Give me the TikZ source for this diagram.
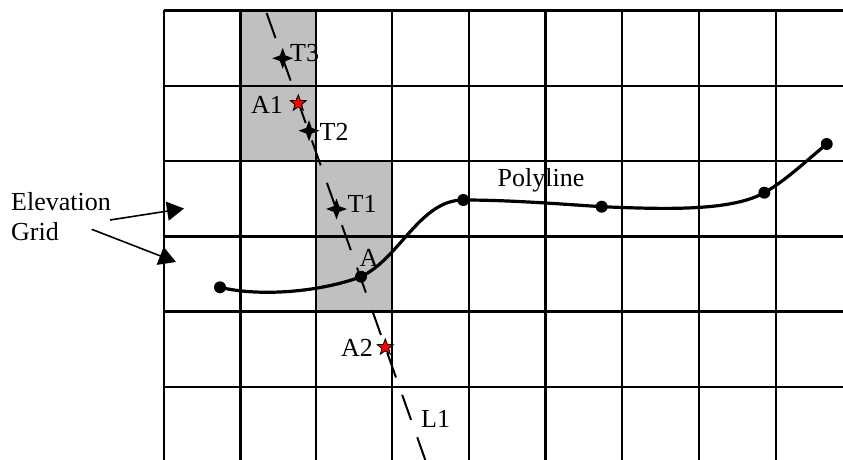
\documentclass[tikz,border=0pt]{standalone}
\usepackage{fontspec}
\setmainfont{Liberation Serif}
\usetikzlibrary{arrows.meta,shapes.geometric}
\definecolor{cellgray}{HTML}{C0C0C0}
\begin{document}
\begin{tikzpicture}[x=1pt,y=-1pt,
  gridline/.style={line width=2.4pt},
  lbl/.style={font=\fontsize{26}{30}\selectfont, inner sep=0pt, anchor=base west},
  polyline/.style={line width=3.2pt},
  vertex/.style={circle, fill=black, inner sep=0pt, minimum size=12pt},
  redstar/.style={star, star points=5, star point ratio=2.4, fill=red, draw=black, line width=0.8pt, inner sep=0pt, minimum size=17pt},
  sectline/.style={line width=2pt, dash pattern=on 26.5pt off 18.5pt, dash phase=31pt},
  labelarrow/.style={line width=1.6pt, -{Triangle[length=17pt,width=19pt]}}]
\useasboundingbox (0,0) rectangle (843,460);
% shaded cells
\fill[cellgray] (240.5,10.5) rectangle (316,161);
\fill[cellgray] (316,161) rectangle (392,311.5);
% grid
\foreach \x in {164,240.5,316,392,469,545.5,622,699,776}
  \draw[gridline] (\x,10.5) -- (\x,460);
\foreach \y in {10.5,86,161,236.5,311.5,387}
  \draw[gridline] (164,\y) -- (843,\y);
% line L1
\coordinate (L1top) at (262,0);
\coordinate (L1bot) at (425.3,460);
\draw[sectline] (L1top) -- (L1bot);
% polyline
\coordinate (P0) at (220,287.3);
\coordinate (A) at (361,276.7);
\coordinate (P2) at (463.3,200);
\coordinate (P3) at (601.7,206.7);
\coordinate (P4) at (764.3,192.7);
\coordinate (P5) at (826.7,144);
\draw[polyline] (P0) .. controls (260,297) and (320,292) .. (A)
  .. controls (400,258) and (420,200) .. (P2)
  .. controls (510,200) and (560,204) .. (P3)
  .. controls (660,209) and (730,212) .. (P4)
  .. controls (785,181) and (805,162) .. (P5);
\foreach \p in {P0,A,P2,P3,P4,P5}
  \node[vertex] (v\p) at (\p) {};
% T markers
\coordinate (T1) at (336.5,209);
\coordinate (T2) at (309,130.7);
\coordinate (T3) at (282.7,58.3);
\foreach \t in {T1,T2,T3}
  \fill[shift={(\t)}] (0,-10.5) -- (2.8,-2.8) -- (10.5,0) -- (2.8,2.8) -- (0,10.5) -- (-2.8,2.8) -- (-10.5,0) -- (-2.8,-2.8) -- cycle;
% red stars
\node[redstar] (A1) at (298.3,103.3) {};
\node[redstar] (A2) at (385.3,347.3) {};
% labels
\node[lbl] (lT3) at (290,61.7) {T3};
\node[lbl] (lA1) at (251,113.3) {A1};
\node[lbl] (lT2) at (319.5,140) {T2};
\node[lbl] (lT1) at (347.5,212) {T1};
\node[lbl] (lA) at (359.5,266) {A};
\node[lbl] (lA2) at (341,356) {A2};
\node[lbl] (lL1) at (421,427.7) {L1};
\node[lbl] (lPoly) at (497.5,186.7) {Polyline};
\node[lbl] (lElev) at (11,210) {Elevation};
\node[lbl] (lGrid) at (11,240) {Grid};
% label arrows
\coordinate (e1s) at (110,220);
\coordinate (e1t) at (184,208.5);
\coordinate (e2s) at (91.7,229.3);
\coordinate (e2t) at (176,262);
\draw[labelarrow] (e1s) -- (e1t);
\draw[labelarrow] (e2s) -- (e2t);
\end{tikzpicture}
\end{document}
